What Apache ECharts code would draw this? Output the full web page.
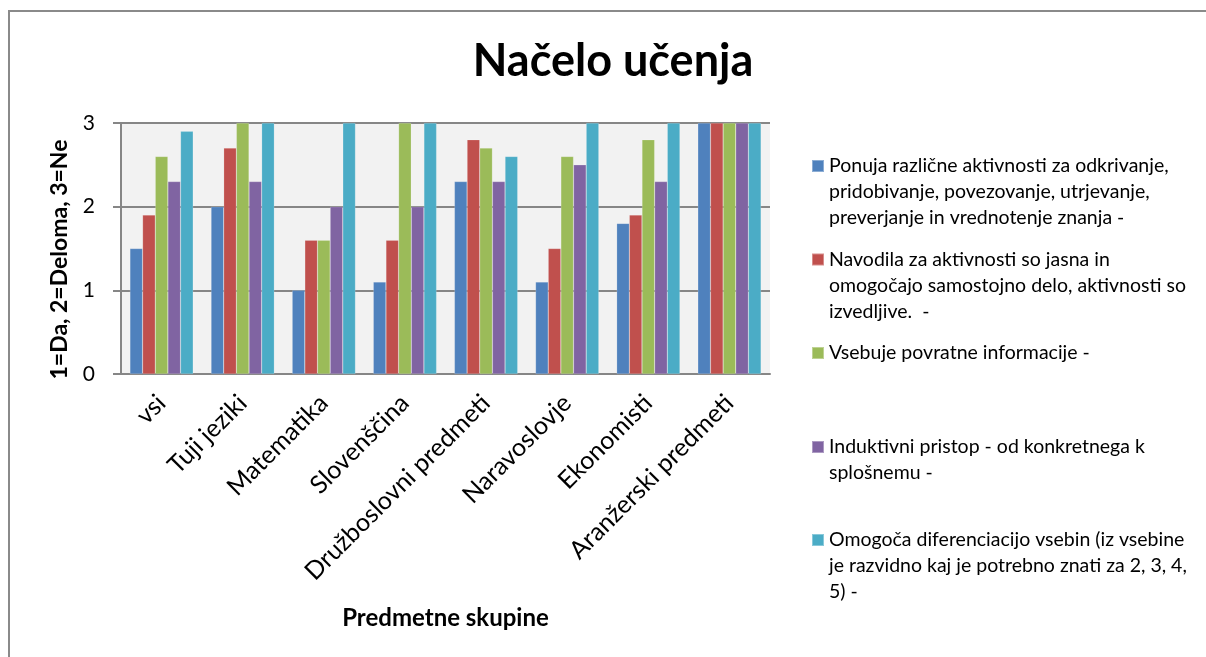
<!DOCTYPE html>
<html>
<head>
<meta charset="utf-8">
<script src="https://cdn.jsdelivr.net/npm/echarts@6/dist/echarts.min.js"></script>
<style>html,body{margin:0;padding:0;background:#fff;}#c{width:1206px;height:657px;}</style>
</head>
<body>
<div id="c"></div>
<script>
const categories = ['vsi', 'Tuji jeziki', 'Matematika', 'Slovenščina', 'Družboslovni predmeti', 'Naravoslovje', 'Ekonomisti', 'Aranžerski predmeti'];
const seriesNames = [
  'Ponuja različne aktivnosti za odkrivanje,\npridobivanje, povezovanje, utrjevanje,\npreverjanje in vrednotenje znanja -',
  'Navodila za aktivnosti so jasna in\nomogočajo samostojno delo, aktivnosti so\nizvedljive.  -',
  'Vsebuje povratne informacije -',
  'Induktivni pristop - od konkretnega k\nsplošnemu -',
  'Omogoča diferenciacijo vsebin (iz vsebine\nje razvidno kaj je potrebno znati za 2, 3, 4,\n5) -'
];
const s1 = [1.5, 2.0, 1.0, 1.1, 2.3, 1.1, 1.8, 3];
const s2 = [1.9, 2.7, 1.6, 1.6, 2.8, 1.5, 1.9, 3];
const s3 = [2.6, 3.0, 1.6, 3.0, 2.7, 2.6, 2.8, 3];
const s4 = [2.3, 2.3, 2.0, 2.0, 2.3, 2.5, 2.3, 3];
const s5 = [2.9, 3.0, 3.0, 3.0, 2.6, 3.0, 3.0, 3];
const yTicks = [0, 1, 2, 3];
const colors = ['#4F81BD', '#C0504D', '#9BBB59', '#8064A2', '#4BACC6'];
const allData = [s1, s2, s3, s4, s5];

const FONT = 'Lato';
const LH = 26;
const iconCenters = [166, 259.5, 353, 447, 540];

const legends = seriesNames.map((n, i) => {
  const lines = n.split('\n').length;
  return {
    data: [n],
    left: 811,
    top: iconCenters[i] - (2 * lines - 1) * LH / 2,
    orient: 'vertical',
    padding: 0,
    itemWidth: 12,
    itemHeight: 12,
    itemGap: 0,
    icon: 'rect',
    selectedMode: false,
    formatter: name => '\u00a0\n'.repeat(lines - 1) + name,
    textStyle: {fontFamily: FONT, fontSize: 19.5, color: '#000', lineHeight: LH}
  };
});

const chart = echarts.init(document.getElementById('c'), null, {renderer: 'canvas'});
chart.setOption({
  animation: false,
  backgroundColor: '#fff',
  title: {
    text: 'Načelo učenja',
    left: 608,
    textAlign: 'center',
    top: 34,
    textStyle: {fontFamily: FONT, fontSize: 45, fontWeight: 'bold', color: '#000'}
  },
  graphic: [{
    type: 'rect',
    shape: {x: 9, y: 11, width: 1300, height: 800},
    style: {fill: 'none', stroke: '#8a8a8a', lineWidth: 2},
    silent: true
  }],
  legend: legends,
  grid: {left: 121, right: 436, top: 123, bottom: 283, show: true, backgroundColor: '#F2F2F2', borderWidth: 0},
  xAxis: {
    type: 'category',
    data: categories,
    name: 'Predmetne skupine',
    nameLocation: 'middle',
    nameGap: 232,
    nameTextStyle: {fontFamily: FONT, fontSize: 24, fontWeight: 'bold', color: '#000'},
    axisLine: {lineStyle: {color: '#868686', width: 2}},
    axisTick: {show: false},
    axisLabel: {rotate: 45, margin: 25, fontFamily: FONT, fontSize: 25, color: '#000', interval: 0}
  },
  yAxis: {
    type: 'value',
    min: 0,
    max: 3,
    interval: 1,
    name: '1=Da, 2=Deloma, 3=Ne',
    nameLocation: 'middle',
    nameGap: 50,
    nameTextStyle: {fontFamily: FONT, fontSize: 23, fontWeight: 'bold', color: '#000', padding: [0, 22, 0, 0]},
    axisLine: {show: true, lineStyle: {color: '#868686', width: 2}},
    axisTick: {show: true, inside: false, length: 8, lineStyle: {color: '#868686', width: 2}},
    splitLine: {lineStyle: {color: '#868686', width: 2}},
    axisLabel: {margin: 26, fontFamily: FONT, fontSize: 21, color: '#000',
      formatter: v => yTicks.includes(v) ? String(v) : ''}
  },
  series: allData.map((d, i) => ({
    type: 'bar',
    name: seriesNames[i],
    data: d,
    barGap: '0%',
    barCategoryGap: '22%',
    itemStyle: {color: colors[i], borderColor: 'rgba(255,255,255,0.35)', borderWidth: 0.5}
  }))
});
</script>
</body>
</html>
